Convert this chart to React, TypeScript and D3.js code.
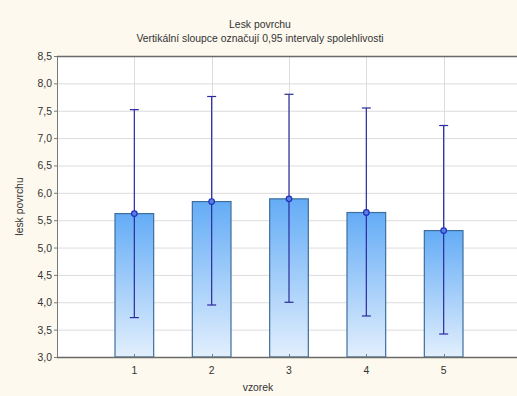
import React, { useEffect, useRef } from 'react';
import * as d3 from 'd3';

const categories = ['1', '2', '3', '4', '5'];
const means = [5.62, 5.84, 5.89, 5.64, 5.31];
const upper = [7.52, 7.76, 7.80, 7.55, 7.23];
const lower = [3.72, 3.95, 4.00, 3.75, 3.42];
const yTicks = [3.0, 3.5, 4.0, 4.5, 5.0, 5.5, 6.0, 6.5, 7.0, 7.5, 8.0, 8.5];

const App = () => {
  const svgRef = useRef<SVGSVGElement>(null);

  useEffect(() => {
    if (!svgRef.current) return;
    d3.select(svgRef.current).selectAll('*').remove();

    const width = 517;
    const height = 396;
    const left = 57, top = 56, bottom = 357, right = 521;
    const font = 'Liberation Sans, Arial, sans-serif';
    const fs = '10.4px';

    const svg = d3.select(svgRef.current)
      .attr('width', width)
      .attr('height', height);

    svg.append('rect').attr('width', width).attr('height', height).attr('fill', '#fdf9ee');

    const defs = svg.append('defs');
    const grad = defs.append('linearGradient')
      .attr('id', 'barGrad').attr('x1', 0).attr('y1', 0).attr('x2', 0).attr('y2', 1);
    grad.append('stop').attr('offset', '0%').attr('stop-color', '#64acf6');
    grad.append('stop').attr('offset', '100%').attr('stop-color', '#e2effd');

    const x = d3.scaleLinear().domain([0, 6]).range([left, right]);
    const y = d3.scaleLinear().domain([3, 8.5]).range([bottom, top]);
    const barW = (x(1) - x(0)) * 0.5;

    // plot background
    svg.append('rect')
      .attr('x', left).attr('y', top)
      .attr('width', right - left).attr('height', bottom - top)
      .attr('fill', '#ffffff');

    // horizontal grid
    svg.selectAll('.hgrid')
      .data(yTicks.slice(1, -1))
      .enter()
      .append('line')
      .attr('x1', left).attr('x2', right)
      .attr('y1', d => y(d) + 0.5).attr('y2', d => y(d) + 0.5)
      .attr('stroke', '#dcdcdc');

    // vertical grid
    svg.selectAll('.vgrid')
      .data(categories)
      .enter()
      .append('line')
      .attr('x1', (d, i) => Math.round(x(i + 1)) + 0.5)
      .attr('x2', (d, i) => Math.round(x(i + 1)) + 0.5)
      .attr('y1', top).attr('y2', bottom)
      .attr('stroke', '#dcdcdc');

    // bars
    svg.selectAll('.bar')
      .data(means)
      .enter()
      .append('rect')
      .attr('x', (d, i) => x(i + 1) - barW / 2)
      .attr('y', d => y(d))
      .attr('width', barW)
      .attr('height', d => bottom - y(d))
      .attr('fill', 'url(#barGrad)')
      .attr('stroke', '#3f6e9c')
      .attr('stroke-width', 1.2);

    // error bars
    const eb = svg.selectAll('.err')
      .data(means)
      .enter()
      .append('g');
    eb.append('line')
      .attr('x1', (d, i) => x(i + 1)).attr('x2', (d, i) => x(i + 1))
      .attr('y1', (d, i) => y(upper[i])).attr('y2', (d, i) => y(lower[i]))
      .attr('stroke', '#2a2a9e').attr('stroke-width', 1.2);
    eb.append('line')
      .attr('x1', (d, i) => x(i + 1) - 4.5).attr('x2', (d, i) => x(i + 1) + 4.5)
      .attr('y1', (d, i) => y(upper[i])).attr('y2', (d, i) => y(upper[i]))
      .attr('stroke', '#2a2a9e').attr('stroke-width', 1.2);
    eb.append('line')
      .attr('x1', (d, i) => x(i + 1) - 4.5).attr('x2', (d, i) => x(i + 1) + 4.5)
      .attr('y1', (d, i) => y(lower[i])).attr('y2', (d, i) => y(lower[i]))
      .attr('stroke', '#2a2a9e').attr('stroke-width', 1.2);
    eb.append('circle')
      .attr('cx', (d, i) => x(i + 1))
      .attr('cy', d => y(d))
      .attr('r', 2.8)
      .attr('fill', '#5a7fe0')
      .attr('stroke', '#1f2fc0')
      .attr('stroke-width', 1.2);

    // frame
    svg.append('line')
      .attr('x1', left + 0.5).attr('x2', left + 0.5).attr('y1', top).attr('y2', bottom + 1)
      .attr('stroke', '#7a7a7a');
    svg.append('line')
      .attr('x1', left).attr('x2', right).attr('y1', bottom + 0.5).attr('y2', bottom + 0.5)
      .attr('stroke', '#6a6a6a').attr('stroke-width', 1.5);
    svg.append('line')
      .attr('x1', left).attr('x2', right).attr('y1', top + 0.5).attr('y2', top + 0.5)
      .attr('stroke', '#6a6a6a').attr('stroke-width', 1.5);

    // y ticks
    svg.selectAll('.ytick')
      .data(yTicks)
      .enter()
      .append('line')
      .attr('x1', left - 3).attr('x2', left)
      .attr('y1', d => y(d) + 0.5).attr('y2', d => y(d) + 0.5)
      .attr('stroke', '#7a7a7a');
    svg.selectAll('.ylab')
      .data(yTicks)
      .enter()
      .append('text')
      .attr('x', left - 5)
      .attr('y', d => y(d) + 4)
      .attr('text-anchor', 'end')
      .attr('font-family', font)
      .attr('font-size', fs)
      .attr('fill', '#333333')
      .text(d => d.toFixed(1).replace('.', ','));

    // x ticks
    svg.selectAll('.xtick')
      .data(categories)
      .enter()
      .append('line')
      .attr('x1', (d, i) => Math.round(x(i + 1)) + 0.5)
      .attr('x2', (d, i) => Math.round(x(i + 1)) + 0.5)
      .attr('y1', bottom - 3).attr('y2', bottom)
      .attr('stroke', '#7a7a7a');
    svg.selectAll('.xlab')
      .data(categories)
      .enter()
      .append('text')
      .attr('x', (d, i) => x(i + 1))
      .attr('y', 374)
      .attr('text-anchor', 'middle')
      .attr('font-family', font)
      .attr('font-size', fs)
      .attr('fill', '#333333')
      .text(d => d);

    // axis titles
    svg.append('text')
      .attr('x', 258).attr('y', 391)
      .attr('text-anchor', 'middle')
      .attr('font-family', font).attr('font-size', fs).attr('fill', '#333333')
      .text('vzorek');
    svg.append('text')
      .attr('transform', `translate(23, ${(top + bottom) / 2}) rotate(-90)`)
      .attr('text-anchor', 'middle')
      .attr('font-family', font).attr('font-size', fs).attr('fill', '#333333')
      .text('lesk povrchu');

    // titles
    svg.append('text')
      .attr('x', 260).attr('y', 28)
      .attr('text-anchor', 'middle')
      .attr('font-family', font).attr('font-size', fs).attr('fill', '#333333')
      .text('Lesk povrchu');
    svg.append('text')
      .attr('x', 260).attr('y', 42)
      .attr('text-anchor', 'middle')
      .attr('font-family', font).attr('font-size', fs).attr('fill', '#333333')
      .text('Vertikální sloupce označují 0,95 intervaly spolehlivosti');
  }, []);

  return (
    <svg ref={svgRef} style={{ position: 'absolute', left: 0, top: 0, display: 'block' }}></svg>
  );
};

export default App;
